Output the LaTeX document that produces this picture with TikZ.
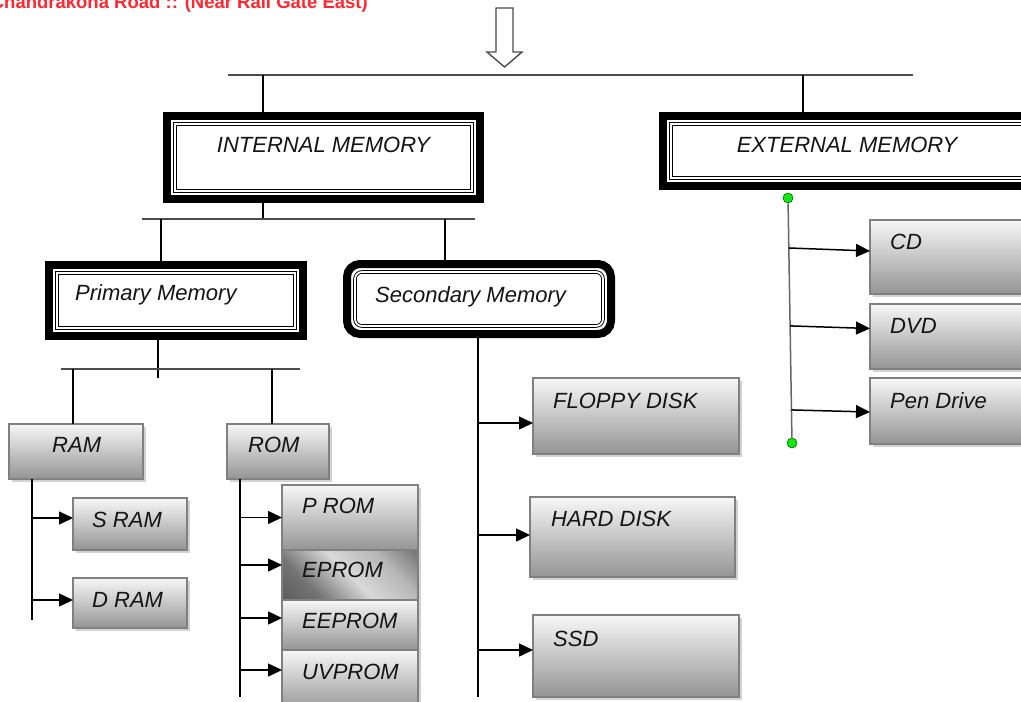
\documentclass[tikz,border=0pt]{standalone}
\usepackage{fontspec}
\setmainfont{Liberation Sans}
\usetikzlibrary{arrows.meta,shadows,calc}
\definecolor{hdrred}{RGB}{255,40,48}
\definecolor{dotgreen}{RGB}{20,230,20}
\pgfdeclarehorizontalshading{epromshade}{100bp}{color(0bp)=(black!72); color(30bp)=(black!55); color(50bp)=(black!15); color(68bp)=(black!28); color(100bp)=(black!78)}
\begin{document}
\begin{tikzpicture}[x=1pt,y=-1pt,
  lbl/.style={font=\fontsize{22}{26}\selectfont\itshape, inner sep=0pt, anchor=base west, text=black!92},
  frame/.style={draw, line width=8pt, inner sep=0pt, outer sep=0pt, fill=white},
  innerline/.style={draw, line width=0.9pt, double=white, double distance=1.8pt},
  gbox/.style={draw=black!50, line width=1.2pt, inner sep=0pt, outer sep=0pt, anchor=north west,
    top color=black!3, bottom color=black!42,
    drop shadow={shadow xshift=2.5pt, shadow yshift=-2.5pt, fill=black!35, opacity=0.5}},
  trunk/.style={line width=1.5pt, black},
  bar/.style={line width=2pt, black!70},
  arr/.style={line width=1.5pt, black, -{Triangle[length=14pt,width=13pt]}},
  dot/.style={circle, draw=black!60!green, line width=0.6pt, fill=dotgreen, minimum size=10pt, inner sep=0pt},
]
\useasboundingbox (0,0) rectangle (1021,702);
\clip (0,0) rectangle (1021,702);
\fill[white] (0,0) rectangle (1021,702);

% header
\node[font=\bfseries\fontsize{18.5}{22}\selectfont, text=hdrred, anchor=base east, inner sep=0pt] (hdr) at (368,8) {Chandrakona Road :: (Near Rail Gate East)};

% hollow arrow
\draw[line width=1.4pt, black!70, fill=white, line join=miter] (496,8) -- (513,8) -- (513,52) -- (522,52) -- (504.5,67) -- (487,52) -- (496,52) -- cycle;

% frames
\node[frame, minimum width=313pt, minimum height=83pt] (im) at (323.5,157.5) {};
\draw[innerline] ([shift={(8pt,-8pt)}]im.north west) rectangle ([shift={(-8pt,8pt)}]im.south east);
\node[frame, minimum width=368pt, minimum height=70pt] (em) at (847,151) {};
\draw[innerline] ([shift={(8pt,-8pt)}]em.north west) rectangle ([shift={(-8pt,8pt)}]em.south east);
\node[frame, minimum width=254pt, minimum height=71pt] (pm) at (176,300.5) {};
\draw[innerline] ([shift={(8pt,-8pt)}]pm.north west) rectangle ([shift={(-8pt,8pt)}]pm.south east);
\node[frame, rounded corners=13pt, minimum width=264pt, minimum height=70pt] (sm) at (479,299) {};
\draw[innerline, rounded corners=7pt] ([shift={(8pt,-8pt)}]sm.north west) rectangle ([shift={(-8pt,8pt)}]sm.south east);

% gradient boxes
\node[gbox, minimum width=134pt, minimum height=55pt] (ram) at (9,424) {};
\node[gbox, minimum width=114pt, minimum height=52pt] (sram) at (73,498) {};
\node[gbox, minimum width=114pt, minimum height=50pt] (dram) at (73,578) {};
\node[gbox, minimum width=102pt, minimum height=55pt] (rom) at (227,424) {};
\node[gbox, minimum width=136pt, minimum height=65pt] (prom) at (282,485) {};
\node[gbox, minimum width=136pt, minimum height=50pt, shading=epromshade, shading angle=45] (eprom) at (282,550) {};
\node[gbox, minimum width=136pt, minimum height=50pt] (eeprom) at (282,600) {};
\node[gbox, minimum width=136pt, minimum height=62pt] (uvprom) at (282,650) {};
\node[gbox, minimum width=206pt, minimum height=76pt] (floppy) at (533,378) {};
\node[gbox, minimum width=205pt, minimum height=80pt] (hard) at (530,497) {};
\node[gbox, minimum width=206pt, minimum height=82pt] (ssd) at (533,615) {};
\node[gbox, minimum width=175pt, minimum height=74pt] (cd) at (870,220) {};
\node[gbox, minimum width=175pt, minimum height=65pt] (dvd) at (870,304) {};
\node[gbox, minimum width=175pt, minimum height=66pt] (pen) at (870,378) {};

% labels
\node[lbl, anchor=base] (tim) at (323.5,152) {INTERNAL MEMORY};
\node[lbl, anchor=base] (tem) at (847,152) {EXTERNAL MEMORY};
\node[lbl] (tpm) at (75,300) {Primary Memory};
\node[lbl] (tsm) at (375,302) {Secondary Memory};
\node[lbl] (tram) at (52,452) {RAM};
\node[lbl] (trom) at (248,452) {ROM};
\node[lbl] (tsram) at (92,527) {S RAM};
\node[lbl] (tdram) at (92,607) {D RAM};
\node[lbl] (tprom) at (302,513) {P ROM};
\node[lbl] (teprom) at (302,577) {EPROM};
\node[lbl] (teeprom) at (302,628) {EEPROM};
\node[lbl] (tuvprom) at (302,679) {UVPROM};
\node[lbl] (tfloppy) at (553,408) {FLOPPY DISK};
\node[lbl] (thard) at (551,526) {HARD DISK};
\node[lbl] (tssd) at (553,646) {SSD};
\node[lbl] (tcd) at (890,249) {CD};
\node[lbl] (tdvd) at (890,333) {DVD};
\node[lbl] (tpen) at (890,408) {Pen Drive};

% top bar
\coordinate (topL) at (228,75);
\coordinate (topR) at (913,75);
\coordinate (jI) at (263,75);
\coordinate (jE) at (803,75);
\draw[bar] (topL) -- (topR);
\draw[trunk] (jI) -- (jI |- im.north);
\draw[trunk] (jE) -- (jE |- em.north);

% internal memory branches
\coordinate (b2L) at (142,219);
\coordinate (b2R) at (475,219);
\coordinate (jI2) at (263,219);
\coordinate (jP) at (161,219);
\coordinate (jS) at (445,219);
\draw[trunk] (jI2 |- im.south) -- (jI2);
\draw[bar] (b2L) -- (b2R);
\draw[trunk] (jP) -- (jP |- pm.north);
\draw[trunk] (jS) -- (jS |- sm.north);

% primary memory branches
\coordinate (jP2) at (158,378);
\coordinate (b3L) at (61,369);
\coordinate (b3R) at (300,369);
\coordinate (jR) at (73,369);
\coordinate (jO) at (272,369);
\draw[trunk] (jP2 |- pm.south) -- (jP2);
\draw[bar] (b3L) -- (b3R);
\draw[trunk] (jR) -- (jR |- ram.north);
\draw[trunk] (jO) -- (jO |- rom.north);

% arrow targets
\coordinate (sramIn) at ([yshift=6pt]sram.west);
\coordinate (dramIn) at ([yshift=3pt]dram.west);
\coordinate (promIn) at (prom.west);
\coordinate (epromIn) at ([yshift=10pt]eprom.west);
\coordinate (eepromIn) at ([yshift=7pt]eeprom.west);
\coordinate (uvpromIn) at ([yshift=11pt]uvprom.west);
\coordinate (floppyIn) at ([yshift=-7pt]floppy.west);
\coordinate (hardIn) at ([yshift=2pt]hard.west);
\coordinate (ssdIn) at ([yshift=6pt]ssd.west);
\coordinate (cdIn) at ([yshift=6pt]cd.west);
\coordinate (dvdIn) at ([yshift=8pt]dvd.west);
\coordinate (penIn) at ([yshift=-1pt]pen.west);

% RAM
\coordinate (ramEnd) at (32,620);
\draw[trunk] (ramEnd |- ram.south) -- (ramEnd);
\draw[arr] (ramEnd |- sramIn) -- (sramIn);
\draw[arr] (ramEnd |- dramIn) -- (dramIn);

% ROM
\coordinate (romEnd) at (240,697);
\draw[trunk] (romEnd |- rom.south) -- (romEnd);
\draw[arr] (romEnd |- promIn) -- (promIn);
\draw[arr] (romEnd |- epromIn) -- (epromIn);
\draw[arr] (romEnd |- eepromIn) -- (eepromIn);
\draw[arr] (romEnd |- uvpromIn) -- (uvpromIn);

% secondary
\coordinate (secEnd) at (478,697);
\draw[trunk] (secEnd |- sm.south) -- (secEnd);
\draw[arr] (secEnd |- floppyIn) -- (floppyIn);
\draw[arr] (secEnd |- hardIn) -- (hardIn);
\draw[arr] (secEnd |- ssdIn) -- (ssdIn);

% external
\node[dot] (d1) at (788,198) {};
\node[dot] (d2) at (792,443) {};
\draw[line width=1.5pt, black!60] (d1) -- (d2);
\draw[arr] ($(d1)!0.204!(d2)$) -- (cdIn);
\draw[arr] ($(d1)!0.522!(d2)$) -- (dvdIn);
\draw[arr] ($(d1)!0.865!(d2)$) -- (penIn);
\end{tikzpicture}
\end{document}
